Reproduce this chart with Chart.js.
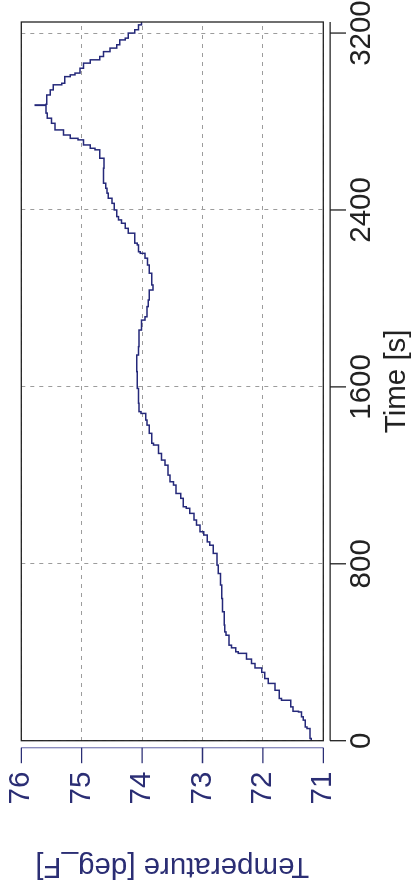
<!DOCTYPE html>
<html>
<head>
<meta charset="utf-8">
<script src="https://cdn.jsdelivr.net/npm/chart.js@4.4.1/dist/chart.umd.min.js"></script>
<style>
  html, body { margin: 0; padding: 0; background: #fff; overflow: hidden; width: 414px; height: 890px; }
  #wrap { position: absolute; left: -238px; top: 238px; width: 890px; height: 414px; transform: rotate(-90deg); transform-origin: 50% 50%; }
  canvas { display: block; }
</style>
</head>
<body>
<div id="wrap"><canvas id="c" width="890" height="414"></canvas></div>
<script>
// Time [s]
const times = [0, 10, 55, 62, 93, 108, 130, 133, 153, 183,
  191, 228, 259, 281, 309, 329, 349, 369, 395, 402,
  420, 432, 477, 492, 523, 583, 643, 704, 756, 794,
  847, 884, 899, 930, 945, 975, 998, 1028, 1051, 1058,
  1096, 1118, 1156, 1171, 1201, 1246, 1269, 1299, 1337, 1345,
  1390, 1427, 1450, 1480, 1488, 1526, 1593, 1669, 1744, 1782,
  1857, 1902, 1917, 1963, 1993, 2038, 2061, 2114, 2151, 2182,
  2204, 2211, 2242, 2250, 2295, 2317, 2340, 2355, 2370, 2400,
  2430, 2453, 2476, 2498, 2521, 2544, 2589, 2634, 2672, 2679,
  2694, 2717, 2724, 2739, 2762, 2792, 2815, 2838, 2873, 2875,
  2878, 2920, 2943, 2966, 2973, 3003, 3011, 3019, 3041, 3064,
  3079, 3094, 3116, 3132, 3147, 3169, 3177, 3200, 3215, 3237,
  3250];
// Temperature [deg_F]
const temps = [71.21, 71.20, 71.22, 71.27, 71.30, 71.33, 71.36, 71.41, 71.50, 71.54,
  71.69, 71.73, 71.80, 71.91, 71.97, 72.02, 72.13, 72.19, 72.27, 72.41,
  72.45, 72.52, 72.56, 72.61, 72.63, 72.64, 72.67, 72.68, 72.70, 72.74,
  72.76, 72.82, 72.88, 72.92, 72.98, 73.04, 73.10, 73.14, 73.21, 73.27,
  73.32, 73.36, 73.44, 73.48, 73.54, 73.57, 73.62, 73.68, 73.73, 73.81,
  73.84, 73.88, 73.92, 73.94, 74.02, 74.05, 74.06, 74.08, 74.09, 74.06,
  74.05, 74.01, 73.95, 73.92, 73.90, 73.88, 73.82, 73.84, 73.88, 73.91,
  73.95, 74.03, 74.06, 74.08, 74.12, 74.23, 74.28, 74.34, 74.39, 74.42,
  74.46, 74.50, 74.56, 74.58, 74.60, 74.64, 74.64, 74.63, 74.70, 74.78,
  74.86, 74.97, 75.06, 75.19, 75.30, 75.44, 75.50, 75.57, 75.59, 75.77,
  75.59, 75.58, 75.52, 75.47, 75.33, 75.28, 75.19, 75.11, 75.03, 74.97,
  74.86, 74.70, 74.64, 74.53, 74.42, 74.37, 74.28, 74.23, 74.12, 74.06,
  74.01];
const timeTicks = [0, 800, 1600, 2400, 3200];
const tempTicks = [71, 72, 73, 74, 75, 76];
const xTitle = 'Time [s]';
const yTitle = 'Temperature [deg_F]';

const NAVY = '#2b2e74';
const FONT = "'Liberation Sans', Arial, Helvetica, sans-serif";
const FS = 29.5;

const rAxes = {
  id: 'rAxes',
  afterDraw(chart) {
    const { ctx, chartArea: a, scales: { x, y } } = chart;
    ctx.save();
    ctx.lineCap = 'butt';
    // plot box
    ctx.strokeStyle = '#222';
    ctx.lineWidth = 1.3;
    ctx.strokeRect(a.left, a.top, a.right - a.left, a.bottom - a.top);
    // time axis (offset from box)
    const ay = a.bottom + 6.8;
    ctx.beginPath();
    ctx.moveTo(a.left, ay); ctx.lineTo(a.right, ay);
    timeTicks.forEach(v => { const p = x.getPixelForValue(v); ctx.moveTo(p, ay); ctx.lineTo(p, ay + 16); });
    ctx.stroke();
    // temperature axis (offset from box)
    const ax = a.left - 7;
    ctx.strokeStyle = '#8486ba';
    ctx.beginPath();
    ctx.moveTo(ax, a.top); ctx.lineTo(ax, a.bottom);
    ctx.stroke();
    ctx.strokeStyle = NAVY;
    ctx.beginPath();
    tempTicks.forEach(v => { const p = y.getPixelForValue(v); ctx.moveTo(ax, p); ctx.lineTo(ax - 15.5, p); });
    ctx.stroke();
    ctx.restore();
  }
};

new Chart(document.getElementById('c'), {
  type: 'line',
  data: {
    datasets: [{
      data: times.map((t, i) => ({ x: t, y: temps[i] })),
      borderColor: '#25297a',
      borderWidth: 1.5,
      pointRadius: 0,
      stepped: 'after',
      fill: false
    }]
  },
  options: {
    responsive: false,
    animation: false,
    devicePixelRatio: 1,
    layout: { padding: { top: 21.3, right: 22, bottom: 0, left: 0 } },
    plugins: { legend: { display: false }, tooltip: { enabled: false } },
    scales: {
      x: {
        type: 'linear', min: 0, max: 3250,
        afterBuildTicks: s => { s.ticks = timeTicks.map(v => ({ value: v })); },
        afterFit: s => { s.height = 90.7; s.paddingLeft = 0; s.paddingRight = 0; },
        ticks: { color: '#222', font: { family: FONT, size: FS }, padding: 21, maxRotation: 0, autoSkip: false, callback: v => String(v) },
        grid: { color: '#9c9c9c', lineWidth: 1, drawTicks: false },
        border: { display: false, dash: [4, 5] },
        title: { display: true, text: xTitle, color: '#222', font: { family: FONT, size: FS, lineHeight: 1 }, padding: { top: 0, bottom: 2.3 } }
      },
      y: {
        type: 'linear', min: 71, max: 76,
        afterBuildTicks: s => { s.ticks = tempTicks.map(v => ({ value: v })); },
        afterFit: s => { s.width = 149.3; s.paddingTop = 0; s.paddingBottom = 0; },
        ticks: { color: NAVY, font: { family: FONT, size: FS }, padding: 31, autoSkip: false, callback: v => String(v) },
        grid: { color: '#9c9c9c', lineWidth: 1, drawTicks: false },
        border: { display: false, dash: [4, 5] },
        title: { display: true, text: yTitle, color: NAVY, font: { family: FONT, size: FS, lineHeight: 1 }, padding: { top: 9.3, bottom: 0 } }
      }
    }
  },
  plugins: [rAxes]
});
</script>
</body>
</html>
